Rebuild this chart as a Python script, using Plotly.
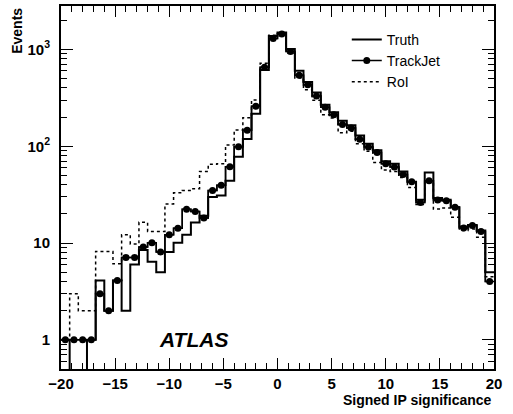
import numpy as np
import plotly.graph_objects as go

# 50 bins of width 0.8 between -20 and 20
bin_edges = np.linspace(-20, 20, 51)
bin_centers = 0.5 * (bin_edges[:-1] + bin_edges[1:])

truth = [1, 0, 0, 1, 4.1, 2.0, 4.1, 2.0, 6.0, 8.5,
         6.4, 5.0, 8.1, 10.1, 12.2, 16.3, 19.2, 30, 31, 44,
         78, 119, 217, 615, 1374, 1500, 1010, 601, 460, 360,
         269, 224, 184, 165, 129, 106, 91, 70, 66, 55,
         43, 28, 53.5, 29.2, 28, 23.4, 14.8, 15.4, 13.5, 5.0]
trackjet = [1, 1, 1, 1, 3.0, 2.0, 4.1, 7.1, 7.1, 9.1,
            10.1, 8.1, 12.2, 14.2, 22.3, 21.2, 18.2, 35, 39.6, 61.6,
            99, 146, 259, 656, 1301, 1442, 955, 542, 432, 330,
            253, 212, 168, 154, 118, 98, 86, 66, 61, 51,
            43, 26.3, 44, 27.8, 27.4, 23.4, 14.3, 15.2, 13.2, 4.0]
roi = [1, 3.0, 2.0, 2.0, 8.2, 8.2, 6.1, 12.2, 9.8, 16.4,
       13.2, 13.2, 25.3, 33, 35, 36.5, 55, 65, 66, 103,
       147, 197, 300, 720, 1400, 1460, 912, 506, 384, 298,
       212, 196, 138, 143, 106, 89, 68, 57, 55, 47.5,
       37.5, 25, 43, 22.5, 23, 18.5, 13.5, 14, 11.5, 4.5]

y_ticks = [1, 10, 100, 1000]
y_ticktext = ['1', '10', '10<sup>2</sup>', '10<sup>3</sup>']

FONT = 'Liberation Sans, Arial, sans-serif'


def step(values):
    """histogram outline: left edges + last right edge, empty bins pushed below the axis"""
    v = np.asarray(values, dtype=float)
    v = np.where(v > 0, v, 1e-3)
    return list(bin_edges), list(v) + [v[-1]]


fig = go.Figure()

x, y = step(roi)
fig.add_trace(go.Scatter(
    name='RoI', x=x, y=y, mode='lines', line_shape='hv', legendrank=3,
    line=dict(color='black', width=1.5, dash='3px,3px'),
))

x, y = step(truth)
fig.add_trace(go.Scatter(
    name='Truth', x=x, y=y, mode='lines', line_shape='hv', legendrank=1,
    line=dict(color='black', width=2),
))

x, y = step(trackjet)
fig.add_trace(go.Scatter(
    name='TrackJet', x=x, y=y, mode='lines', line_shape='hv',
    line=dict(color='black', width=1.5), showlegend=False,
))
fig.add_trace(go.Scatter(
    name='TrackJet', x=bin_centers, y=trackjet, mode='lines+markers', line_shape='hvh', legendrank=2,
    line=dict(color='black', width=1.5), marker=dict(color='black', size=7),
))

fig.add_annotation(
    text='<b><i>ATLAS</i></b>', x=0.305, y=0.08, xref='paper', yref='paper',
    xanchor='center', yanchor='middle', showarrow=False,
    font=dict(family=FONT, size=21, color='black'),
)
fig.add_annotation(
    text='<b>Events</b>', x=-0.102, y=1.0, xref='paper', yref='paper', textangle=-90,
    xanchor='center', yanchor='top', showarrow=False,
    font=dict(family=FONT, size=14, color='black'),
)
fig.add_annotation(
    text='<b>Signed IP significance</b>', x=1.0, y=-0.085, xref='paper', yref='paper',
    xanchor='right', yanchor='middle', showarrow=False,
    font=dict(family=FONT, size=14, color='black'),
)

fig.update_layout(
    width=513, height=414,
    margin=dict(l=61, r=19, t=4, b=45),
    plot_bgcolor='white', paper_bgcolor='white',
    legend=dict(
        x=0.66, y=0.951, xanchor='left', yanchor='top', traceorder='normal',
        bgcolor='rgba(0,0,0,0)', font=dict(family=FONT, size=14, color='black'),
        itemwidth=30, tracegroupgap=0,
    ),
    xaxis=dict(
        range=[-20, 20], showgrid=False, zeroline=False,
        showline=True, linecolor='black', linewidth=2, mirror='ticks',
        ticks='inside', ticklen=11, tickwidth=1, tickcolor='black', dtick=5, tick0=0,
        minor=dict(ticks='inside', ticklen=6, tickwidth=1, tickcolor='black', dtick=1),
        tickfont=dict(family=FONT, size=15, color='black', weight='bold'),
    ),
    yaxis=dict(
        type='log', range=[np.log10(0.5), 3.449], showgrid=False, zeroline=False,
        showline=True, linecolor='black', linewidth=2, mirror='ticks',
        ticks='inside', ticklen=12, tickwidth=1, tickcolor='black',
        tickmode='array', tickvals=y_ticks, ticktext=y_ticktext,
        minor=dict(ticks='inside', ticklen=6, tickwidth=1, tickcolor='black', dtick='D1'),
        tickfont=dict(family=FONT, size=15, color='black', weight='bold'),
        ticklabelstandoff=6,
    ),
)

# drop the default page margin so the figure sits in the window corner
fig.write_html('out.html', config={'displayModeBar': False},
               post_script="document.body.style.margin='0';")
